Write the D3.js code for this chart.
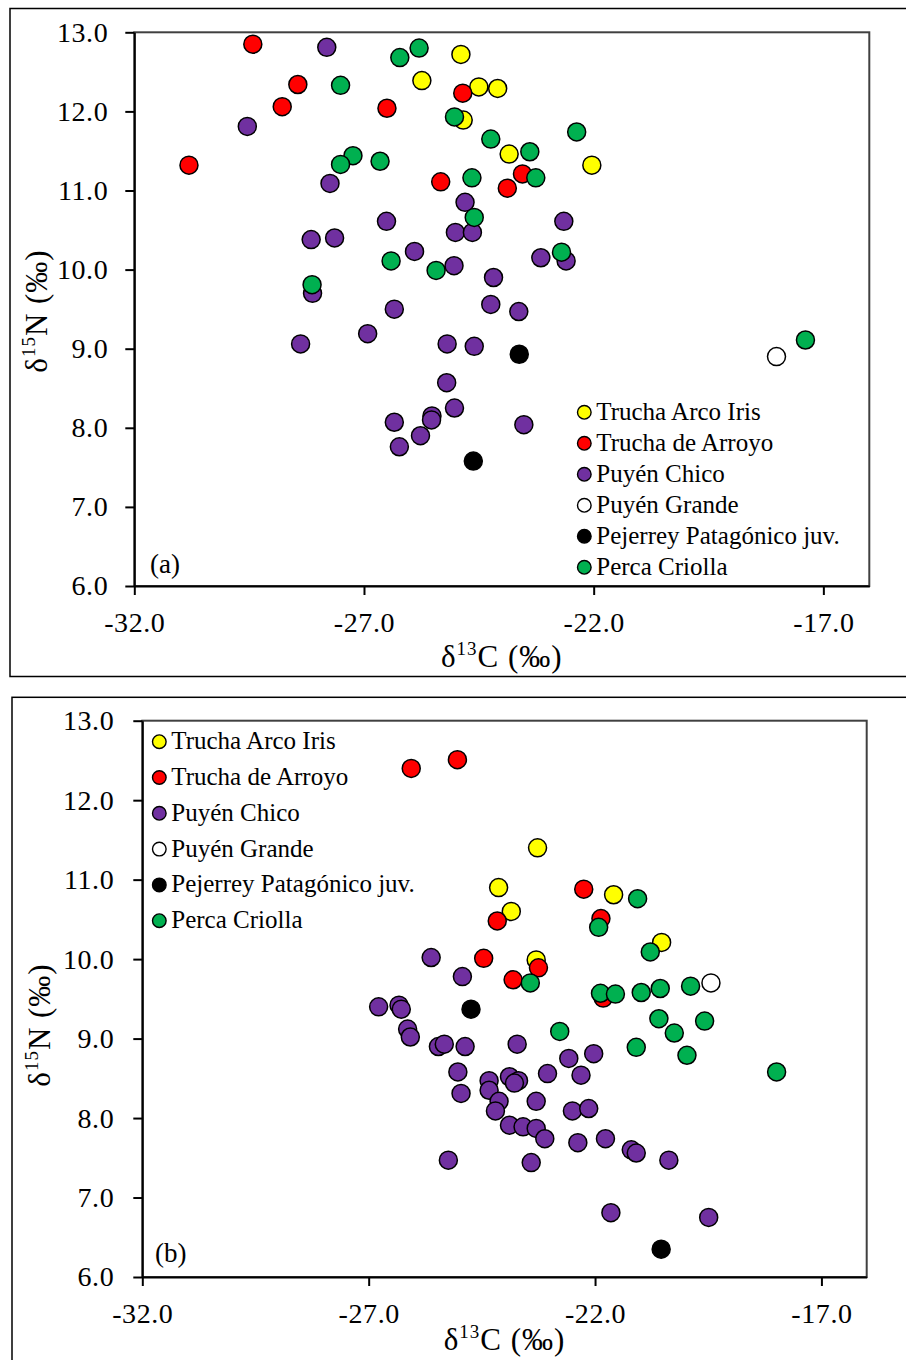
<!DOCTYPE html>
<html>
<head>
<meta charset="utf-8">
<script src="https://cdn.jsdelivr.net/npm/d3@7"></script>
<style>
  body { margin: 0; background: #fff; }
  svg text { font-family: "Liberation Serif", "Times New Roman", serif; fill: #000; }
</style>
</head>
<body>
<div id="chart"></div>
<script>
// legend order = drawing order (later series sit on top)
const speciesNames = ["Trucha Arco Iris", "Trucha de Arroyo", "Puyén Chico", "Puyén Grande", "Pejerrey Patagónico juv.", "Perca Criolla"];
const speciesColors = ["#FFFF00", "#FF0000", "#7030A0", "#FFFFFF", "#000000", "#00B050"];

const xTicks = [-32, -27, -22, -17];
const yTicks = [6, 7, 8, 9, 10, 11, 12, 13];

// panel (a) values, [d13C, d15N]
const aTruchaArcoIris = [[-24.89, 12.72], [-25.74, 12.39], [-24.50, 12.31], [-24.09, 12.29], [-24.84, 11.89], [-23.84, 11.46], [-22.04, 11.32]];
const aTruchaArroyo = [[-30.81, 11.32], [-29.42, 12.85], [-28.44, 12.34], [-28.78, 12.06], [-26.50, 12.04], [-25.33, 11.11], [-24.85, 12.23], [-23.55, 11.21], [-23.88, 11.03]];
const aPuyenChico = [[-27.81, 12.81], [-29.54, 11.81], [-27.74, 11.09], [-26.51, 10.61], [-28.15, 10.38], [-27.64, 10.40], [-25.90, 10.23],
    [-28.12, 9.70], [-26.34, 9.50], [-26.92, 9.19], [-28.38, 9.06], [-24.80, 10.85], [-25.01, 10.47], [-24.64, 10.47], [-22.65, 10.61],
    [-23.15, 10.15], [-22.60, 10.11], [-24.18, 9.90], [-25.04, 10.05], [-24.24, 9.56], [-23.63, 9.47], [-25.19, 9.06], [-24.60, 9.03],
    [-25.20, 8.57], [-25.03, 8.25], [-25.52, 8.15], [-25.53, 8.10], [-26.34, 8.07], [-25.77, 7.90], [-26.23, 7.76], [-23.52, 8.04]];
const aPuyenGrande = [[-18.02, 8.90]];
const aPejerrey = [[-23.62, 8.93], [-24.62, 7.58]];
const aPercaCriolla = [[-25.80, 12.80], [-26.22, 12.68], [-27.51, 12.33], [-25.03, 11.93], [-24.24, 11.65], [-22.37, 11.74], [-23.39, 11.49],
    [-23.26, 11.16], [-24.65, 11.16], [-24.60, 10.66], [-27.24, 11.44], [-27.51, 11.33], [-26.65, 11.37], [-26.41, 10.11], [-25.43, 9.99],
    [-28.13, 9.81], [-22.70, 10.22], [-17.39, 9.11]];

// panel (b) values
const bTruchaArcoIris = [[-23.27, 11.40], [-24.13, 10.90], [-23.85, 10.60], [-21.59, 10.81], [-20.53, 10.21], [-23.30, 9.99]];
const bTruchaArroyo = [[-26.06, 12.40], [-25.04, 12.51], [-22.25, 10.88], [-24.16, 10.48], [-21.87, 10.51], [-24.46, 10.01], [-23.81, 9.74], [-23.25, 9.89], [-21.82, 9.51]];
const bPuyenChico = [[-25.62, 10.02], [-24.93, 9.78], [-26.78, 9.40], [-26.33, 9.42], [-26.28, 9.37], [-26.14, 9.12], [-26.08, 9.02],
    [-25.46, 8.90], [-25.33, 8.93], [-24.87, 8.90], [-23.72, 8.93], [-25.03, 8.58], [-24.96, 8.31], [-24.34, 8.47], [-24.34, 8.35],
    [-24.12, 8.21], [-24.20, 8.09], [-23.89, 7.91], [-23.59, 7.89], [-23.30, 7.87], [-23.11, 7.74], [-23.89, 8.52], [-23.69, 8.47],
    [-23.78, 8.44], [-23.05, 8.56], [-22.58, 8.75], [-22.03, 8.81], [-22.31, 8.54], [-23.30, 8.21], [-22.50, 8.09], [-22.14, 8.12],
    [-22.38, 7.69], [-21.77, 7.74], [-21.20, 7.60], [-21.09, 7.56], [-20.37, 7.47], [-25.24, 7.47], [-23.41, 7.44], [-21.65, 6.81], [-19.49, 6.75]];
const bPuyenGrande = [[-19.44, 9.70]];
const bPejerrey = [[-24.74, 9.37], [-20.54, 6.35]];
const bPercaCriolla = [[-21.06, 10.76], [-21.92, 10.40], [-20.78, 10.09], [-23.43, 9.70], [-21.88, 9.57], [-21.55, 9.56], [-20.98, 9.58],
    [-20.56, 9.63], [-19.89, 9.66], [-20.59, 9.25], [-19.58, 9.22], [-20.25, 9.07], [-22.78, 9.09], [-21.09, 8.89], [-19.97, 8.79], [-17.99, 8.58]];

const svg = d3.select("#chart")
    .append("svg")
    .attr("width", 906)
    .attr("height", 1360);

function drawPanel(p) {
    const x = d3.scaleLinear().domain([-32, -16]).range([p.left, p.right]);
    const y = d3.scaleLinear().domain([6, 13]).range([p.bottom, p.top]);

    // outer frame of the figure panel
    svg.append("rect")
        .attr("x", p.frame[0]).attr("y", p.frame[1])
        .attr("width", 920).attr("height", p.frame[2])
        .attr("fill", "none").attr("stroke", "#000").attr("stroke-width", 1.5);

    // plot area border
    svg.append("rect")
        .attr("x", p.left).attr("y", p.top)
        .attr("width", p.right - p.left).attr("height", p.bottom - p.top)
        .attr("fill", "none").attr("stroke", "#404040").attr("stroke-width", 2);

    const xAxis = svg.append("g")
        .attr("transform", `translate(0, ${p.bottom})`)
        .call(d3.axisBottom(x).tickValues(xTicks).tickSize(9).tickSizeOuter(0).tickFormat(d => d.toFixed(1)));
    xAxis.selectAll("text").attr("y", 46).attr("dy", 0);

    const yAxis = svg.append("g")
        .attr("transform", `translate(${p.left}, 0)`)
        .call(d3.axisLeft(y).tickValues(yTicks).tickSize(9).tickSizeOuter(0).tickPadding(p.yPad).tickFormat(d => d.toFixed(1)));

    [xAxis, yAxis].forEach(ax => {
        ax.select(".domain").attr("stroke", "#000").attr("stroke-width", 2);
        ax.selectAll(".tick line").attr("stroke", "#000").attr("stroke-width", 2);
        ax.selectAll("text").attr("font-size", 28).attr("fill", "#000")
            .attr("letter-spacing", 0.6)
            .attr("font-family", "Liberation Serif, serif");
    });

    // points, one group per species
    p.series.forEach((data, i) => {
        svg.append("g").selectAll("circle")
            .data(data)
            .join("circle")
            .attr("cx", d => x(d[0]))
            .attr("cy", d => y(d[1]))
            .attr("r", 9)
            .attr("fill", speciesColors[i])
            .attr("stroke", "#000")
            .attr("stroke-width", 1.5);
    });

    // legend
    const legend = svg.append("g");
    speciesNames.forEach((name, i) => {
        const ly = p.legend[1] + i * p.legend[2];
        legend.append("circle")
            .attr("cx", p.legend[0]).attr("cy", ly).attr("r", 6.8)
            .attr("fill", speciesColors[i]).attr("stroke", "#000").attr("stroke-width", 1.4);
        legend.append("text")
            .attr("x", p.legend[0] + 12).attr("y", ly + 7.5)
            .attr("font-size", 25)
            .text(name);
    });

    // panel tag
    svg.append("text")
        .attr("x", p.tag[0]).attr("y", p.tag[1])
        .attr("font-size", 27)
        .text(p.tag[2]);

    // axis titles
    const xt = svg.append("text")
        .attr("x", (p.left + p.right) / 2).attr("y", p.xTitleY)
        .attr("text-anchor", "middle")
        .attr("letter-spacing", 1)
        .attr("font-size", 31);
    xt.append("tspan").text("δ");
    xt.append("tspan").attr("font-size", 19).attr("dy", -12).text("13");
    xt.append("tspan").attr("dy", 12).text("C (‰)");

    const yt = svg.append("text")
        .attr("transform", `translate(${p.yTitle[0]}, ${p.yTitle[1]}) rotate(-90)`)
        .attr("text-anchor", "middle")
        .attr("letter-spacing", 1)
        .attr("font-size", 31);
    yt.append("tspan").text("δ");
    yt.append("tspan").attr("font-size", 19).attr("dy", -12).text("15");
    yt.append("tspan").attr("dy", 12).text("N (‰)");
}

drawPanel({
    left: 134.3, right: 869.3, top: 32.3, bottom: 586,
    frame: [10, 8.5, 668], yPad: 17,
    series: [aTruchaArcoIris, aTruchaArroyo, aPuyenChico, aPuyenGrande, aPejerrey, aPercaCriolla],
    legend: [584.3, 412.3, 31],
    tag: [150, 573, "(a)"],
    xTitleY: 667,
    yTitle: [47, 311]
});

drawPanel({
    left: 142.3, right: 866.7, top: 720.7, bottom: 1277,
    frame: [12, 697.3, 700], yPad: 19,
    series: [bTruchaArcoIris, bTruchaArroyo, bPuyenChico, bPuyenGrande, bPejerrey, bPercaCriolla],
    legend: [159.3, 741.7, 35.8],
    tag: [155, 1262, "(b)"],
    xTitleY: 1350,
    yTitle: [50, 1025]
});
</script>
</body>
</html>
